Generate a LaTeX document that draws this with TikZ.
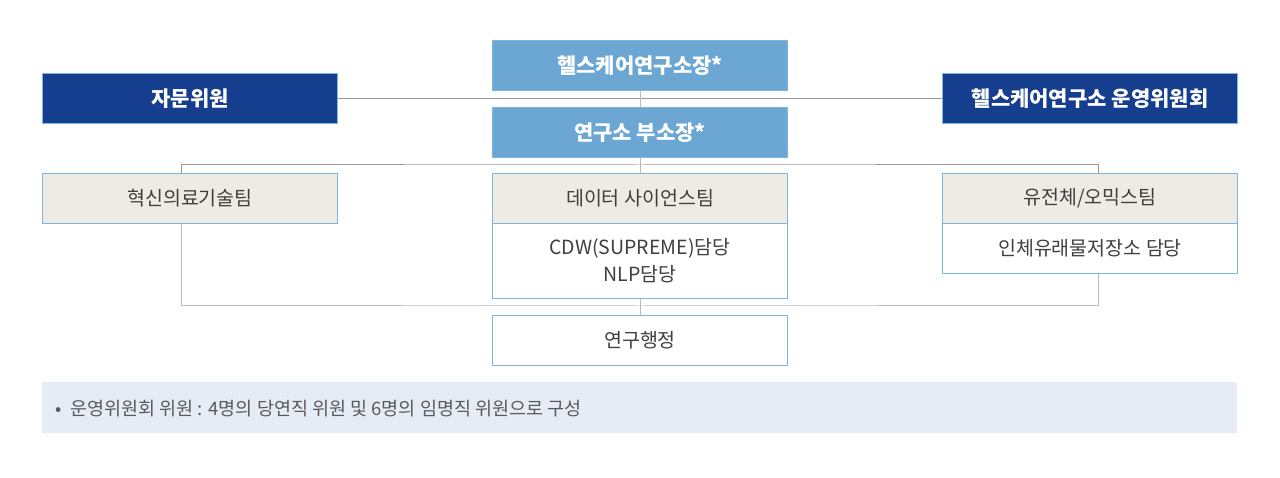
\documentclass[tikz,border=0pt]{standalone}
\usepackage{fontspec}
\setmainfont{Noto Sans CJK KR}
\usetikzlibrary{calc}
\definecolor{navy}{HTML}{153E8E}
\definecolor{sky}{HTML}{6CA7D4}
\definecolor{edge}{HTML}{7DB7DE}
\definecolor{beige}{HTML}{EEEAE4}
\definecolor{notebg}{HTML}{E6ECF6}
\definecolor{txt}{HTML}{3F3F3F}
\definecolor{notetxt}{HTML}{5A5A5A}
\definecolor{lineA}{HTML}{999999}
\definecolor{lineB}{HTML}{BBBBBB}
\tikzset{
  box/.style={draw=edge, line width=1pt, minimum width=295pt, minimum height=50pt, inner sep=0pt, anchor=north west, align=center},
  navybox/.style={box, fill=navy, text=white, font=\fontsize{21}{25}\selectfont\bfseries},
  skybox/.style={box, fill=sky, text=white, font=\fontsize{21}{25}\selectfont\bfseries},
  teambox/.style={box, fill=beige, text=txt, font=\fontsize{19.5}{23}\selectfont},
  whitebox/.style={box, fill=white, text=txt, font=\fontsize{19.5}{27}\selectfont},
  linka/.style={draw=lineA, line width=1pt},
  linkb/.style={draw=lineB, line width=1pt},
}
\begin{document}
\begin{tikzpicture}[x=1pt,y=-1pt]
\useasboundingbox[fill=white] (0,0) rectangle (1280,478);
\node[navybox] (adv) at (42,73) {자문위원};
\node[skybox] (dir) at (492,40) {헬스케어연구소장*};
\node[skybox] (vice) at (492,107) {연구소 부소장*};
\node[navybox] (com) at (942,73) {헬스케어연구소 운영위원회};
\node[teambox] (inno) at (42,173) {혁신의료기술팀};
\node[teambox] (ds) at (492,173) {데이터 사이언스팀};
\node[whitebox, minimum height=75pt] (dslow) at (492,223) {CDW(SUPREME)담당\\NLP담당};
\node[teambox] (omics) at (942,173) {유전체/오믹스팀};
\node[whitebox] (omicslow) at (942,223) {인체유래물저장소 담당};
\node[whitebox] (admin) at (492,315) {연구행정};
\node[draw=none, fill=notebg, minimum width=1195pt, minimum height=51pt, inner sep=0pt, anchor=north west] (note) at (42,382) {};
\node[anchor=west, text=notetxt, font=\fontsize{18.5}{21}\selectfont, inner sep=0pt] (notetext) at (55,409) {•\hspace{9pt}운영위원회 위원 : 4명의 당연직 위원 및 6명의 임명직 위원으로 구성};
\coordinate (topbus) at (640,165);
\coordinate (botbus) at (640,306);
\draw[linka] (adv.east) -- (com.west);
\draw[linkb] (dir.south) -- (vice.north);
\draw[linkb] (vice.south) -- (ds.north);
\draw[linka] ($(inno.north)+(-8.5,0)$) |- (topbus) -| ($(omics.north)+(8.5,0)$);
\draw[linkb] ($(inno.south)+(-8.5,0)$) |- (botbus) -| ($(omicslow.south)+(8.5,0)$);
\draw[linkb] (dslow.south) -- (admin.north);
\end{tikzpicture}
\end{document}
